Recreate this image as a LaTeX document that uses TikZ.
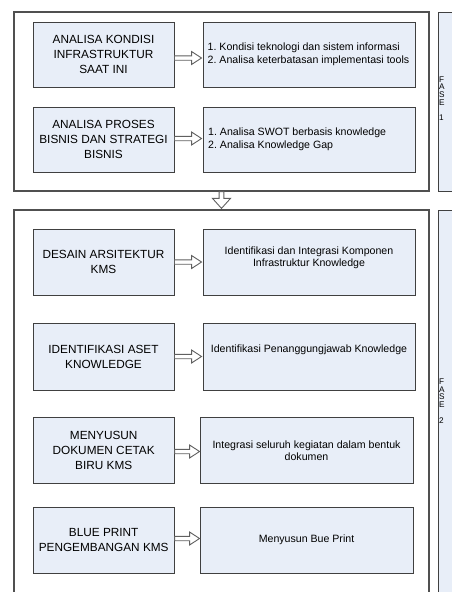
\documentclass[tikz,border=0pt]{standalone}
\usepackage{fontspec}
\setmainfont{Liberation Sans}
\usetikzlibrary{calc}
\definecolor{boxfill}{HTML}{E8EEF8}
\definecolor{boxline}{HTML}{404040}
\definecolor{frameline}{HTML}{505050}
\definecolor{arrline}{HTML}{606060}
\begin{document}
\frenchspacing
\begin{tikzpicture}[x=1pt,y=-1pt,
  frame/.style={draw=frameline,line width=1.2pt,fill=white,minimum width=415pt,inner sep=0pt},
  strip/.style={draw=boxline,line width=1pt,fill=boxfill,minimum width=40pt,inner sep=0pt},
  striptxt/.style={anchor=west,inner sep=0pt,align=left,font=\fontsize{8.2}{7.7}\selectfont},
  lbox/.style={draw=boxline,line width=0.9pt,fill=boxfill,minimum width=141pt,minimum height=65pt,
    inner sep=0pt,align=center,font=\fontsize{11.8}{15}\selectfont},
  rbox/.style={draw=boxline,line width=0.9pt,fill=boxfill,minimum width=212pt,minimum height=65pt,inner sep=0pt},
  ltxt/.style={anchor=west,inner sep=0pt,align=left,font=\fontsize{10.6}{13.3}\selectfont},
  rtxt/.style={inner sep=0pt,align=center,font=\fontsize{10.6}{12}\selectfont},
  harrow/.style={draw=arrline,fill=white,line width=0.9pt,
    to path={let \p1=(\tikztostart),\p2=(\tikztotarget) in
      (\x1,\y1+2.2pt) -- (\x2-10pt,\y1+2.2pt) -- (\x2-10pt,\y1+6.5pt) -- (\x2,\y1)
      -- (\x2-10pt,\y1-6.5pt) -- (\x2-10pt,\y1-2.2pt) -- (\x1,\y1-2.2pt) -- cycle}},
  varrow/.style={draw=arrline,fill=white,line width=0.9pt,
    to path={let \p1=(\tikztostart),\p2=(\tikztotarget) in
      (\x1-2.4pt,\y1) -- (\x1-2.4pt,\y2+10pt) -- (\x1-9pt,\y2+10pt) -- (\x1,\y2)
      -- (\x1+9pt,\y2+10pt) -- (\x1+2.4pt,\y2+10pt) -- (\x1+2.4pt,\y1) -- cycle}}
]
\useasboundingbox (0,0) rectangle (452,592);
\clip (0,0) rectangle (452,592);
\fill[white] (0,0) rectangle (452,592);

% frames
\node[frame,minimum height=179pt] (f1) at (221.5,101.5) {};
\node[frame,minimum height=400pt] (f2) at (221.5,410) {};
\node[strip,minimum height=179pt] (s1) at (458,101.5) {};
\node[strip,minimum height=400pt] (s2) at (458,410) {};
\node[striptxt] (s1t) at (439,98.5) {F\\A\\S\\E\\[7.7pt]1};
\node[striptxt] (s2t) at (439,401) {F\\A\\S\\E\\[7.7pt]2};

% phase 1
\node[lbox] (l1) at (103.5,54.5) {ANALISA KONDISI\\INFRASTRUKTUR\\SAAT INI};
\node[rbox] (r1) at (309,54.5) {};
\node[ltxt] (t1) at (207.5,54) {1. Kondisi teknologi dan sistem informasi\\2. Analisa keterbatasan implementasi tools};
\node[lbox] (l2) at (103.5,139.5) {ANALISA PROSES\\BISNIS DAN STRATEGI\\BISNIS};
\node[rbox] (r2) at (309,139.5) {};
\node[ltxt] (t2) at (208,139.5) {1. Analisa SWOT berbasis knowledge\\2. Analisa Knowledge Gap};

% phase 2
\node[lbox,minimum height=66pt] (l3) at (103.5,262) {DESAIN ARSITEKTUR\\KMS};
\node[rbox,minimum height=66pt] (r3) at (309,262) {};
\node[rtxt] (t3) at (309,257.5) {Identifikasi dan Integrasi Komponen\\Infrastruktur Knowledge};
\node[lbox,minimum height=67pt] (l4) at (103.5,356.5) {IDENTIFIKASI ASET\\KNOWLEDGE};
\node[rbox,minimum height=67pt] (r4) at (309,356.5) {};
\node[rtxt] (t4) at (309,350) {Identifikasi Penanggungjawab Knowledge};
\node[lbox,minimum height=66pt] (l5) at (103.7,450) {MENYUSUN\\DOKUMEN CETAK\\BIRU KMS};
\node[rbox,minimum width=213pt,minimum height=66pt] (r5) at (306.5,450) {};
\node[rtxt] (t5) at (306.5,450.5) {Integrasi seluruh kegiatan dalam bentuk\\dokumen};
\node[lbox,minimum height=66pt] (l6) at (103.7,540) {BLUE PRINT\\PENGEMBANGAN KMS};
\node[rbox,minimum width=213pt,minimum height=66pt] (r6) at (306.5,540) {};
\node[rtxt] (t6) at (306.5,540) {Menyusun Bue Print};

% arrows
\path[harrow] ([yshift=-3.5pt]l1.east) to ([xshift=-1pt,yshift=-3.5pt]r1.west);
\path[harrow] ([yshift=1pt]l2.east) to ([xshift=-1pt,yshift=1pt]r2.west);
\path[harrow] (l3.east) to ([xshift=-1pt]r3.west);
\path[harrow] (l4.east) to ([xshift=-1pt]r4.west);
\path[harrow] ([yshift=-1.5pt]l5.east) to ([yshift=-1.5pt]r5.west);
\path[harrow] ([yshift=1.5pt]l6.east) to ([yshift=1.5pt]r6.west);
\path[varrow] (f1.south) to ([yshift=1pt]f2.north);
\end{tikzpicture}
\end{document}
